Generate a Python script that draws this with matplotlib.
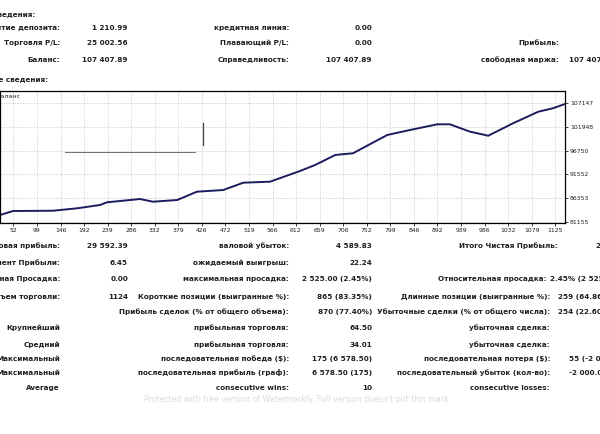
import matplotlib
matplotlib.use("Agg")
import matplotlib.pyplot as plt
from matplotlib.patches import Rectangle

W, H = 600, 434

# balance curve
trades = [26, 52, 62, 131, 179, 224, 238, 284, 303, 329, 377, 416, 468, 508,
          561, 620, 650, 690, 703, 725, 793, 838, 892, 917, 957, 993, 1042,
          1092, 1121, 1145]
balance = [82680, 83560, 83560, 83620, 84150, 84870, 85460, 85960, 86180,
           85590, 85960, 87770, 88140, 89740, 89960, 92290, 93600, 95790,
           95940, 96160, 100160, 101250, 102490, 102490, 100880, 100000,
           102710, 105240, 105990, 106930]

xticks = [52, 99, 146, 192, 239, 286, 332, 379, 426, 472, 519, 566, 612, 659,
          706, 752, 799, 846, 892, 939, 986, 1032, 1079, 1125]
yticks = [81155, 86353, 91552, 96750, 101948, 107147]

# report table
top_labels = ["Открытие депозита:", "Торговля P/L:", "Баланс:"]
top_values = ["1 210.99", "25 002.56", "107 407.89"]
top_labels2 = ["кредитная линия:", "Плавающий P/L:", "Справедливость:"]
top_values2 = ["0.00", "0.00", "107 407.89"]
top_labels3 = ["", "Прибыль:", "свободная маржа:"]
top_values3 = ["", "", "107 407.89"]

bot_labels = ["Валовая прибыль:", "Коэффициент Прибыли:", "Абсолютная Просадка:",
              "Объем торговли:", "", "Крупнейший", "Средний", "Максимальный",
              "Максимальный", "Average"]
bot_values = ["29 592.39", "6.45", "0.00", "1124", "", "", "", "", "", ""]
bot_labels2 = ["валовой убыток:", "ожидаемый выигрыш:", "максимальная просадка:",
               "Короткие позиции (выигранные %):",
               "Прибыль сделок (% от общего объема):", "прибыльная торговля:",
               "прибыльная торговля:", "последовательная победа ($):",
               "последовательная прибыль (граф):", "consecutive wins:"]
bot_values2 = ["4 589.83", "22.24", "2 525.00 (2.45%)", "865 (83.35%)",
               "870 (77.40%)", "64.50", "34.01", "175 (6 578.50)",
               "6 578.50 (175)", "10"]
bot_labels3 = ["Итого Чистая Прибыль:", "", "Относительная просадка:",
               "Длинные позиции (выигранные %):",
               "Убыточные сделки (% от общего числа):", "убыточная сделка:",
               "убыточная сделка:", "последовательная потеря ($):",
               "последовательный убыток (кол-во):", "consecutive losses:"]
bot_values3 = ["25 002.56", "", "2.45% (2 525.00)", "259 (64.86%)",
               "254 (22.60%)", "", "", "55 (-2 000.00)", "-2 000.00 (55)", ""]

top_rows_y = [28, 43, 60]
bot_rows_y = [246, 263, 279, 297, 312, 328, 345, 359, 373, 388]

plt.rcParams['font.family'] = ['DejaVu Sans']
fig = plt.figure(figsize=(W / 100, H / 100), dpi=100)
fig.patch.set_facecolor('white')

FS = 5.25
TXT = '#202020'


def put(x, y, s, ha='right', **kw):
    if s:
        fig.text(x / W, 1 - y / H, s, ha=ha, va='center', fontsize=FS,
                 fontweight='bold', color=TXT, **kw)


put(36, 14, "Сведения:")
put(48, 80, "Общие сведения:")

for i, y in enumerate(top_rows_y):
    put(60, y, top_labels[i])
    put(128, y, top_values[i])
    put(289, y, top_labels2[i])
    put(372, y, top_values2[i])
    put(559, y, top_labels3[i])
    put(569, y, top_values3[i], ha='left')

for i, y in enumerate(bot_rows_y):
    put(60, y, bot_labels[i])
    put(128, y, bot_values[i])
    put(289, y, bot_labels2[i])
    put(372, y, bot_values2[i])
    if i == 0:
        put(558, y, bot_labels3[i])
        put(596, y, bot_values3[i], ha='left')
    elif i == 2:
        put(547, y, bot_labels3[i])
        put(550, y, bot_values3[i], ha='left')
    else:
        put(550, y, bot_labels3[i])
        put(569 if i >= 7 else 558, y, bot_values3[i], ha='left')

fig.text(296 / W, 1 - 399 / H,
         "Protected with free version of Watermarkly. Full version doesn't put this mark",
         ha='center', va='center', fontsize=5.7, color='#dcdcdc')

# chart
ax = fig.add_axes([0, 1 - 223 / H, 565 / W, (223 - 91) / H])
ax.plot(trades, balance, color='#1c1c5e', linewidth=1.4)
ax.set_xlim(26, 1145)
ax.set_ylim(80937, 109766)
ax.set_xticks(xticks)
ax.set_yticks(yticks)
ax.yaxis.tick_right()
ax.tick_params(axis='both', labelsize=4.4, length=2, width=0.6, pad=1.5,
               colors='#202020')
ax.grid(True, color='#c4c4c4', linestyle=(0, (2, 2)), linewidth=0.5)
for s in ax.spines.values():
    s.set_color('black')
    s.set_linewidth(0.9)
ax.text(-0.007, 0.962, "Баланс", transform=ax.transAxes, fontsize=4.6,
        color='#202020', va='center', ha='left')

# leftover tooltip box in the screenshot
ax.add_patch(Rectangle((50 / 565, (223 - 152) / 132), 153 / 565, 40 / 132,
                       transform=ax.transAxes, facecolor='white',
                       edgecolor='none', zorder=1.5))
ax.plot([65 / 565, 195 / 565], [(223 - 152) / 132] * 2, transform=ax.transAxes,
        color='#707070', linewidth=0.7, zorder=2)
ax.plot([203 / 565] * 2, [(223 - 145) / 132, (223 - 123) / 132],
        transform=ax.transAxes, color='#404040', linewidth=0.9, zorder=2)

fig.savefig("out.png", dpi=100)
